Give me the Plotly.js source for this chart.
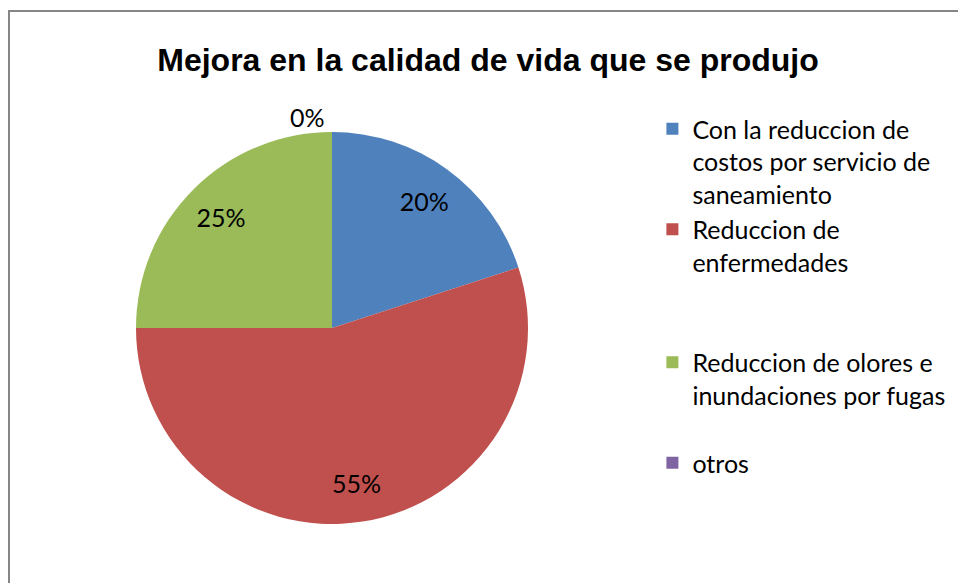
<!DOCTYPE html>
<html>
<head>
<meta charset="utf-8">
<script src="https://cdn.plot.ly/plotly-3.0.1.min.js"></script>
<style>html,body{margin:0;padding:0;background:#fff;}#chart{width:958px;height:583px;}</style>
</head>
<body>
<div id="chart"></div>
<script>
const chartTitle = "Mejora en la calidad de vida que se produjo";
const categories = [
  "Con la reduccion de<br>costos por servicio de<br>saneamiento",
  "Reduccion de<br>enfermedades<br> <br> ",
  "Reduccion de olores e<br>inundaciones por fugas<br> ",
  "otros"
];
const values = [20, 55, 25, 0];
const sliceColors = ["#4F81BD", "#C0504D", "#9BBB59", "#8064A2"];
const percentLabels = values.map(v => v + "%");

const W = 958, H = 583;
const cx = 332, cy = 328, R = 196;
const domain = {x: [(cx - R) / W, (cx + R) / W], y: [1 - (cy + R) / H, 1 - (cy - R) / H]};
const labelFont = {family: "Lato, 'Open Sans', sans-serif", size: 25, color: "#000"};

const pie = {
  type: "pie",
  labels: categories,
  values: values,
  sort: false,
  direction: "clockwise",
  rotation: 0,
  marker: {colors: sliceColors, line: {width: 0}},
  textinfo: "none",
  domain: domain,
  hoverinfo: "label+percent",
  showlegend: true
};
const labelsRing = {
  type: "pie",
  labels: categories,
  values: values,
  sort: false,
  direction: "clockwise",
  rotation: 0,
  hole: 0.6,
  marker: {colors: values.map(() => "rgba(0,0,0,0)"), line: {width: 0}},
  text: percentLabels,
  textinfo: "text",
  textposition: values.map(v => v === 0 ? "outside" : "inside"),
  insidetextorientation: "horizontal",
  insidetextfont: labelFont,
  outsidetextfont: labelFont,
  domain: domain,
  hoverinfo: "skip",
  showlegend: false
};

const layout = {
  width: W, height: H,
  margin: {l: 0, r: 0, t: 0, b: 0},
  paper_bgcolor: "#fff",
  title: {
    text: "<b>" + chartTitle + "</b>",
    font: {family: "'Liberation Sans', Arial, sans-serif", size: 32, color: "#000"},
    x: 488 / W, xanchor: "center",
    y: 1 - 60 / H, yanchor: "middle"
  },
  legend: {
    x: 0.681, xanchor: "left",
    y: 1 - 106 / H, yanchor: "top",
    valign: "top",
    font: labelFont,
    bgcolor: "rgba(0,0,0,0)"
  },
  shapes: [{
    type: "rect", xref: "paper", yref: "paper",
    x0: 9 / W, x1: 1.05, y0: -0.05, y1: 1 - 11 / H,
    line: {color: "#868686", width: 2}
  }]
};

Plotly.newPlot("chart", [pie, labelsRing], layout, {displayModeBar: false, staticPlot: true});
</script>
</body>
</html>
